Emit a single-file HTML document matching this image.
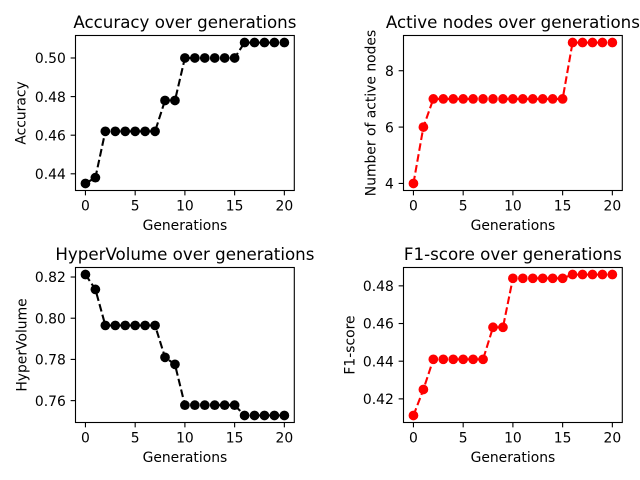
<!DOCTYPE html>
<html>
<head>
<meta charset="utf-8">
<title>Evolution metrics over generations</title>
<style>
html,body{margin:0;padding:0;background:#fff;}
svg{display:block;}
text{font-family:"DejaVu Sans",sans-serif;fill:#000;}
</style>
</head>
<body>
<svg id="figure" width="640" height="480" viewBox="0 0 640 480" xmlns="http://www.w3.org/2000/svg"></svg>
<script>
const generations = [0,1,2,3,4,5,6,7,8,9,10,11,12,13,14,15,16,17,18,19,20];
const xTicks = [0,5,10,15,20];

const accuracyValues = [0.435,0.438,0.462,0.462,0.462,0.462,0.462,0.462,0.478,0.478,0.5,0.5,0.5,0.5,0.5,0.5,0.508,0.508,0.508,0.508,0.508];
const accuracyTicks = [0.44,0.46,0.48,0.50];
const accuracyTickLabels = ["0.44","0.46","0.48","0.50"];

const nodesValues = [4,6,7,7,7,7,7,7,7,7,7,7,7,7,7,7,9,9,9,9,9];
const nodesTicks = [4,6,8];
const nodesTickLabels = ["4","6","8"];

const hyperVolumeValues = [0.8212,0.814,0.7965,0.7965,0.7965,0.7965,0.7965,0.7965,0.781,0.7776,0.7578,0.7578,0.7578,0.7578,0.7578,0.7578,0.7528,0.7528,0.7528,0.7528,0.7528];
const hyperVolumeTicks = [0.76,0.78,0.80,0.82];
const hyperVolumeTickLabels = ["0.76","0.78","0.80","0.82"];

const f1Values = [0.4112,0.425,0.441,0.441,0.441,0.441,0.441,0.441,0.458,0.458,0.484,0.484,0.484,0.484,0.484,0.484,0.486,0.486,0.486,0.486,0.486];
const f1Ticks = [0.42,0.44,0.46,0.48];
const f1TickLabels = ["0.42","0.44","0.46","0.48"];

const NS = "http://www.w3.org/2000/svg";
const figure = document.getElementById("figure");

function make(parent, tag, attrs, text) {
  const el = document.createElementNS(NS, tag);
  for (const k in attrs) el.setAttribute(k, attrs[k]);
  if (text !== undefined) el.textContent = text;
  parent.appendChild(el);
  return el;
}

function drawChart(cfg) {
  const left = cfg.left, top = cfg.top, width = 218.8, height = 155;
  const group = make(figure, "g", {});
  
  

  const xMin = Math.min(...generations), xMax = Math.max(...generations);
  const xPad = (xMax - xMin) * 0.05;
  const yMin = Math.min(...cfg.values), yMax = Math.max(...cfg.values);
  const yPad = (yMax - yMin) * 0.05;
  const xScale = v => left + (v - (xMin - xPad)) / (xMax - xMin + 2 * xPad) * width;
  const yScale = v => top + height - (v - (yMin - yPad)) / (yMax - yMin + 2 * yPad) * height;

  const path = generations.map((g, i) => (i ? "L" : "M") + xScale(g).toFixed(2) + " " + yScale(cfg.values[i]).toFixed(2)).join(" ");
  const line = make(group, "path", {d: path, fill: "none", stroke: cfg.color, "stroke-width": 2.08, "stroke-dasharray": "7.7 3.33"});
  
  

  generations.forEach((g, i) => {
    const point = make(group, "circle", {cx: xScale(g), cy: yScale(cfg.values[i]), r: 4.86, fill: cfg.color});
    
    
  });

  const frame = make(group, "rect", {x: left, y: top, width: width, height: height, fill: "none", stroke: "#000", "stroke-width": 1.11});
  
  

  xTicks.forEach(t => {
    const x = xScale(t);
    const tick = make(group, "line", {x1: x, x2: x, y1: top + height, y2: top + height + 4.86, stroke: "#000", "stroke-width": 1.11});
    
    
    const label = make(group, "text", {x: x, y: top + height + 20, "text-anchor": "middle", "font-size": 13.89}, String(t));
    
    
  });

  cfg.ticks.forEach((t, i) => {
    const y = yScale(t);
    const tick = make(group, "line", {x1: left - 4.86, x2: left, y1: y, y2: y, stroke: "#000", "stroke-width": 1.11});
    
    
    const label = make(group, "text", {x: left - 9.7, y: y + 5.2, "text-anchor": "end", "font-size": 13.89}, cfg.tickLabels[i]);
    
    
  });

  const title = make(group, "text", {x: left + width / 2, y: top - 7.5, "text-anchor": "middle", "font-size": 16.67}, cfg.title);
  
  

  const xTitle = make(group, "text", {x: left + width / 2, y: top + height + 39.5, "text-anchor": "middle", "font-size": 13.89}, "Generations");
  
  

  const cy = top + height / 2;
  const yTitle = make(group, "text", {x: cfg.yTitleX, y: cy, "text-anchor": "middle", "font-size": 13.89, transform: "rotate(-90 " + cfg.yTitleX + " " + cy + ")"}, cfg.yTitle);
  
  
}

drawChart({slug: "accuracy", left: 75.5, top: 35.5, color: "#000000", values: accuracyValues, ticks: accuracyTicks, tickLabels: accuracyTickLabels, title: "Accuracy over generations", yTitle: "Accuracy", yTitleX: 25.5});
drawChart({slug: "active-nodes", left: 403.5, top: 35.5, color: "#ff0000", values: nodesValues, ticks: nodesTicks, tickLabels: nodesTickLabels, title: "Active nodes over generations", yTitle: "Number of active nodes", yTitleX: 375.5});
drawChart({slug: "hypervolume", left: 75.5, top: 267.5, color: "#000000", values: hyperVolumeValues, ticks: hyperVolumeTicks, tickLabels: hyperVolumeTickLabels, title: "HyperVolume over generations", yTitle: "HyperVolume", yTitleX: 26.5});
drawChart({slug: "f1-score", left: 403.5, top: 267.5, color: "#ff0000", values: f1Values, ticks: f1Ticks, tickLabels: f1TickLabels, title: "F1-score over generations", yTitle: "F1-score", yTitleX: 354.5});
</script>
</body>
</html>
